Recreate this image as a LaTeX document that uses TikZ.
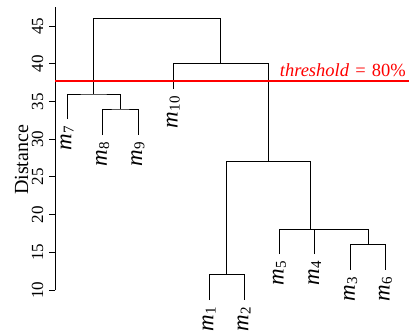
\documentclass[tikz,border=0pt]{standalone}
\usepackage{fontspec}
\setmainfont{Liberation Serif}
\newcommand{\leafm}[1]{\textit{m}\kern0.3pt\raisebox{-2.2pt}{\fontsize{15}{15}\selectfont #1}}
\tikzset{
  tree/.style={draw=black, line width=0.9pt},
  leaflab/.style={rotate=90, anchor=east, inner sep=1.2pt, outer sep=6pt, font=\fontsize{23}{23}\selectfont},
  ticklab/.style={rotate=90, anchor=base, inner sep=0pt, font=\fontsize{17}{17}\selectfont},
  thr/.style={draw=red, line width=1.8pt}
}
\begin{document}
\begin{tikzpicture}[x=1pt,y=-1pt]
\useasboundingbox (0,0) rectangle (409,333);
% axis
\coordinate (ax0) at (55,290);
\coordinate (ax1) at (55,7);
\draw[tree] (ax0) -- (ax1);
\foreach \v [count=\i] in {10,15,20,25,30,35,40,45} {
  \pgfmathsetmacro{\yy}{290-(\v-10)*7.54}
  \coordinate (t\i) at (55,\yy);
  \coordinate (tl\i) at (49,\yy);
  \draw[tree] (t\i) -- (tl\i);
  \node[ticklab] (n\i) at (43,\yy) {\v};
}
\node[rotate=90, anchor=base, inner sep=0pt, font=\fontsize{20}{20}\selectfont] (dist) at (28,160) {Distance};
% leaves
\node[leaflab] (m7) at (67,119) {\leafm{7}};
\node[leaflab] (m8) at (102.7,135) {\leafm{8}};
\node[leaflab] (m9) at (138,135) {\leafm{9}};
\node[leaflab] (m10) at (173.3,89) {\leafm{10}};
\node[leaflab] (m1) at (209,300) {\leafm{1}};
\node[leaflab] (m2) at (244,300) {\leafm{2}};
\node[leaflab] (m5) at (279.3,254) {\leafm{5}};
\node[leaflab] (m4) at (314.7,254) {\leafm{4}};
\node[leaflab] (m3) at (350.7,270) {\leafm{3}};
\node[leaflab] (m6) at (385.3,270) {\leafm{6}};
% joints
\coordinate (j89) at (120.35,109);
\coordinate (j789) at (93.7,94);
\coordinate (j36) at (368,244.8);
\coordinate (j436) at (341.3,229.7);
\coordinate (jB) at (310.3,229.7);
\coordinate (j12) at (226.5,274.9);
\coordinate (jA) at (268.4,161.8);
\coordinate (jR) at (220.85,63.8);
\coordinate (jT) at (157.3,18.6);
\draw[tree] (m8.east) |- (j89) -| (m9.east);
\draw[tree] (m7.east) |- (j789) -| (j89);
\draw[tree] (m3.east) |- (j36) -| (m6.east);
\draw[tree] (m4.east) |- (j436) -| (j36);
\draw[tree] (m5.east) |- (jB) -| (j436);
\draw[tree] (m1.east) |- (j12) -| (m2.east);
\draw[tree] (j12) |- (jA) -| (jB);
\draw[tree] (m10.east) |- (jR) -| (jA);
\draw[tree] (j789) |- (jT) -| (jR);
% threshold
\coordinate (th0) at (55,80.8);
\coordinate (th1) at (409,80.8);
\draw[thr] (th0) -- (th1);
\node[anchor=base east, inner sep=0pt, text=red, font=\fontsize{18.5}{19}\selectfont] (thl) at (406,76) {\textit{threshold}\,\,=\,\,80\%};
\end{tikzpicture}
\end{document}
